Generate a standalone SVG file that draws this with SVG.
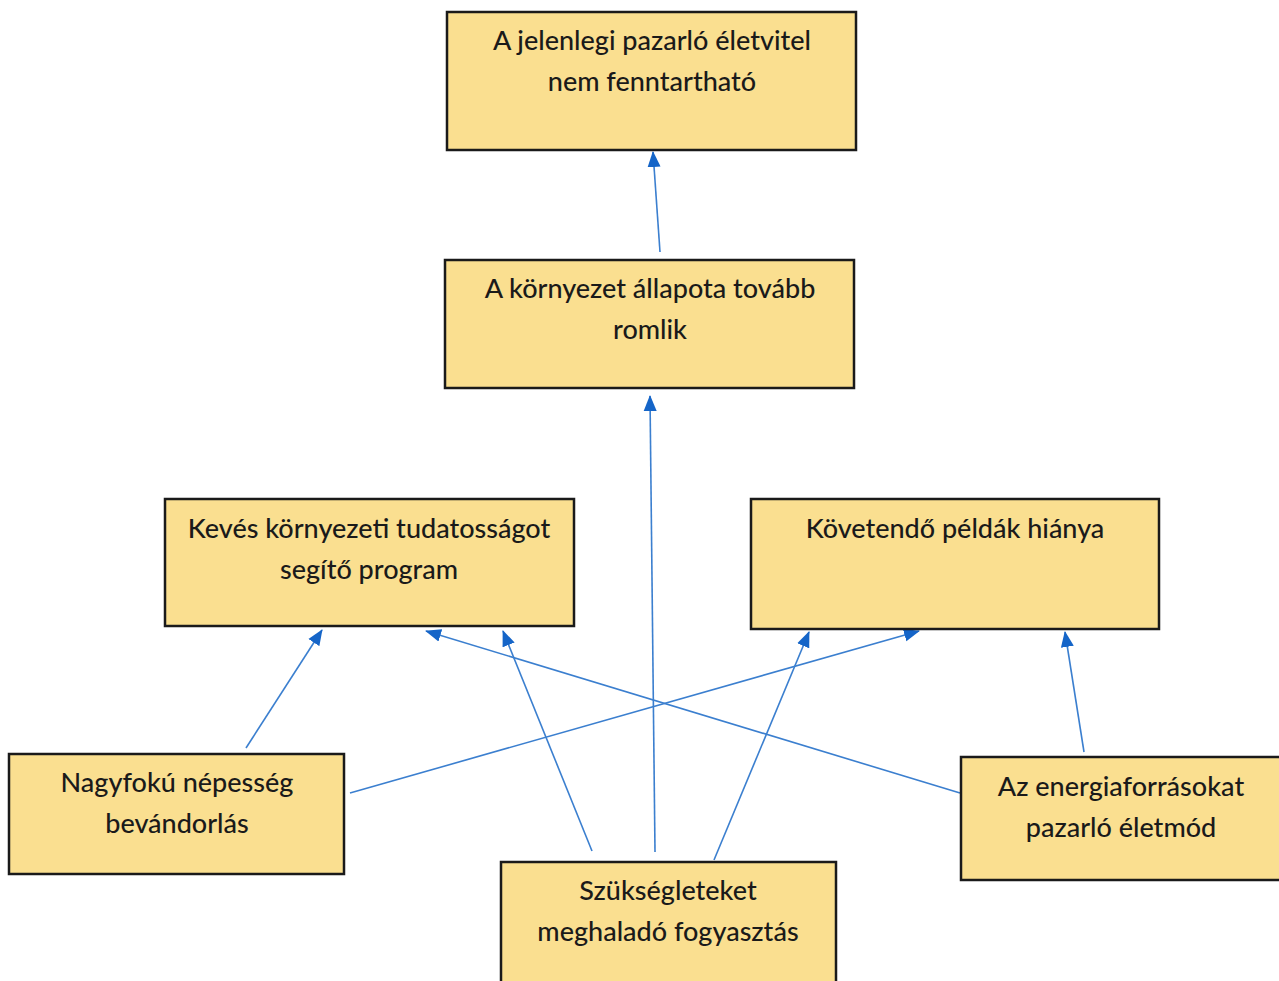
<svg xmlns="http://www.w3.org/2000/svg" width="1279" height="981" viewBox="0 0 1279 981">
<style>
.box{fill:#FADF90;stroke:#1a1a1a;stroke-width:2.5}
.t{font-family:Lato,"Open Sans",sans-serif;font-size:27px;font-weight:500;fill:#1a1a1a;text-anchor:middle}
.c{stroke:#3B7FCF;stroke-width:1.6;fill:none;marker-end:url(#ah)}
</style>
<defs>
<marker id="ah" markerWidth="16" markerHeight="14" refX="15" refY="6.5" orient="auto" markerUnits="userSpaceOnUse" viewBox="0 0 16 13">
<path d="M0,0 L16,6.5 L0,13 Z" fill="#1565C8"/>
</marker>
</defs>
<rect width="1279" height="981" fill="#fff"/>
<g id="connectors">
<line class="c" x1="660" y1="252" x2="653" y2="152"/>
<line class="c" x1="655" y1="852" x2="650" y2="396"/>
<line class="c" x1="246" y1="748" x2="322" y2="630"/>
<line class="c" x1="592" y1="851" x2="503" y2="631"/>
<line class="c" x1="960" y1="793" x2="426" y2="631"/>
<line class="c" x1="350" y1="793" x2="919" y2="631"/>
<line class="c" x1="714" y1="860" x2="809" y2="632"/>
<line class="c" x1="1084" y1="752" x2="1065" y2="632"/>
</g>
<g id="n1"><rect class="box" x="447" y="12" width="409" height="138"/>
<text class="t" x="652" y="50">A jelenlegi pazarló életvitel</text><text class="t" x="652" y="91">nem fenntartható</text></g>
<g id="n2"><rect class="box" x="445" y="260" width="409" height="128"/>
<text class="t" x="650" y="298">A környezet állapota tovább</text><text class="t" x="650" y="339">romlik</text></g>
<g id="n3"><rect class="box" x="165" y="499" width="409" height="127"/>
<text class="t" x="369" y="538">Kevés környezeti tudatosságot</text><text class="t" x="369" y="579">segítő program</text></g>
<g id="n4"><rect class="box" x="751" y="499" width="408" height="130"/>
<text class="t" x="955" y="538">Követendő példák hiánya</text></g>
<g id="n5"><rect class="box" x="9" y="754" width="335" height="120"/>
<text class="t" x="177" y="792">Nagyfokú népesség</text><text class="t" x="177" y="833">bevándorlás</text></g>
<g id="n6"><rect class="box" x="961" y="757" width="320" height="123"/>
<text class="t" x="1121" y="796">Az energiaforrásokat</text><text class="t" x="1121" y="837">pazarló életmód</text></g>
<g id="n7"><rect class="box" x="501" y="862" width="335" height="125"/>
<text class="t" x="668" y="900">Szükségleteket</text><text class="t" x="668" y="941">meghaladó fogyasztás</text></g>
</svg>
